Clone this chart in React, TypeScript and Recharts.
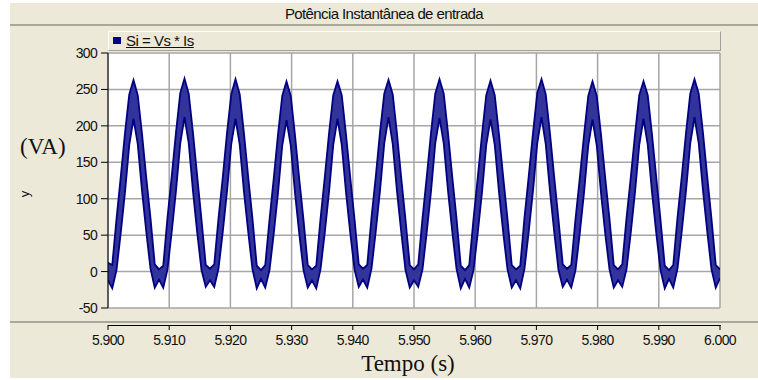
import { Area, CartesianGrid, ComposedChart, XAxis, YAxis } from "recharts";

const X_TICKS = [5.9, 5.91, 5.92, 5.93, 5.94, 5.95, 5.96, 5.97, 5.98, 5.99, 6.0];
const Y_TICKS = [-50, 0, 50, 100, 150, 200, 250, 300];

// 120 Hz ripple cycles, 12 samples per cycle starting at each valley
const T_START = 5.9;
const SAMPLE_STEP = 1 / 120 / 12;

// upper edge of the Si band (VA), one row per cycle
const siHigh = [
  [12, 9, 72, 130, 190, 243, 263, 242, 189, 129, 73, 10],
  [3, 8, 74, 131, 191, 245, 265, 244, 190, 130, 71, 9],
  [4, 10, 73, 129, 190, 243, 264, 243, 189, 129, 72, 8],
  [2, 9, 71, 128, 188, 241, 261, 241, 187, 127, 71, 9],
  [3, 8, 72, 129, 189, 242, 261, 242, 188, 129, 72, 10],
  [4, 9, 74, 130, 191, 244, 263, 243, 189, 128, 71, 9],
  [3, 10, 73, 130, 190, 244, 264, 244, 190, 130, 73, 8],
  [2, 9, 72, 129, 188, 242, 262, 242, 188, 129, 72, 9],
  [3, 8, 74, 131, 190, 245, 264, 243, 189, 129, 71, 10],
  [4, 9, 72, 128, 187, 241, 261, 241, 188, 128, 72, 9],
  [3, 10, 73, 129, 188, 242, 261, 242, 188, 129, 71, 8],
  [2, 9, 74, 130, 190, 244, 264, 244, 190, 130, 72, 9],
];

// lower edge of the Si band (VA)
const siLow = [
  [-12, -23, 2, 53, 109, 174, 210, 175, 111, 55, 4, -22],
  [-11, -22, 3, 55, 111, 176, 212, 176, 110, 53, 2, -21],
  [-12, -21, 4, 54, 110, 175, 210, 174, 109, 54, 3, -23],
  [-10, -22, 2, 52, 108, 173, 208, 173, 108, 52, 2, -22],
  [-12, -23, 3, 53, 109, 174, 210, 174, 109, 53, 3, -21],
  [-11, -22, 4, 55, 111, 176, 212, 175, 110, 54, 2, -22],
  [-12, -21, 3, 54, 110, 176, 211, 176, 111, 55, 4, -23],
  [-10, -22, 2, 53, 109, 174, 209, 174, 109, 53, 3, -22],
  [-12, -23, 4, 55, 111, 176, 212, 175, 110, 54, 2, -21],
  [-11, -22, 2, 52, 108, 173, 209, 173, 108, 52, 3, -22],
  [-12, -21, 3, 53, 109, 174, 210, 174, 109, 53, 2, -23],
  [-10, -22, 4, 55, 111, 176, 212, 176, 111, 55, 3, -22],
];

const SI_END = [-9, 3]; // last sample at 6.000 s

const data = siHigh.flatMap((row, c) =>
  row.map((hi, j) => ({
    t: T_START + (c * row.length + j) * SAMPLE_STEP,
    si: [siLow[c][j], hi],
  }))
);
data.push({ t: 6.0, si: SI_END });

const BG = "#ECE9D8";
const SANS = "'Liberation Sans', Arial, sans-serif";
const SERIF = "'Liberation Serif', 'Times New Roman', serif";

function TimeTick({ x, y, payload }: any) {
  return (
    <g>
      <line x1={x} x2={x} y1={y + 9} y2={y + 14} stroke="#000" />
      <text
        x={x}
        y={y + 29}
        textAnchor="middle"
        fontFamily={SANS}
        fontSize={14}
        letterSpacing={-0.6}
        fill="#111"
      >
        {payload.value.toFixed(3)}
      </text>
    </g>
  );
}

export default function App() {
  return (
    <div
      style={{
        position: "fixed",
        left: 0,
        top: 0,
        width: 758,
        height: 380,
        background: "#fff",
        fontFamily: SANS,
      }}
    >
      <div style={{ position: "absolute", left: 10, top: 3, right: 0, bottom: 2, background: BG }} />

      {/* title bar */}
      <div
        style={{
          position: "absolute",
          left: 10,
          top: 3,
          right: 0,
          height: 22,
          lineHeight: "22px",
          textAlign: "center",
          fontSize: 15,
          letterSpacing: -0.6,
          color: "#111",
        }}
      >
        Potência Instantânea de entrada
      </div>
      <div style={{ position: "absolute", left: 10, top: 24, right: 0, height: 2, background: "#A8A799" }} />

      <ComposedChart
        width={758}
        height={380}
        data={data}
        margin={{ top: 53, right: 38, bottom: 42, left: 68 }}
        style={{ position: "absolute", left: 0, top: 0 }}
      >
        <CartesianGrid stroke="#A6A6A6" strokeWidth={1.5} fill="#fff" />
        <XAxis
          dataKey="t"
          type="number"
          domain={[5.9, 6.0]}
          ticks={X_TICKS}
          interval={0}
          allowDataOverflow
          axisLine={false}
          tickLine={false}
          height={30}
          tick={<TimeTick />}
        />
        <YAxis
          type="number"
          domain={[-50, 300]}
          ticks={Y_TICKS}
          interval={0}
          width={40}
          tickSize={7}
          tickMargin={4}
          axisLine={{ stroke: "#000" }}
          tickLine={{ stroke: "#000" }}
          tick={{ fontSize: 14, fill: "#111", fontFamily: SANS, letterSpacing: -0.7 }}
        />
        <Area
          type="linear"
          dataKey="si"
          stroke="#000080"
          strokeWidth={1.8}
          fill="#33339C"
          fillOpacity={1}
          isAnimationActive={false}
          dot={false}
          activeDot={false}
        />
      </ComposedChart>

      {/* legend box */}
      <div
        style={{
          position: "absolute",
          left: 108,
          top: 31,
          width: 611,
          height: 18,
          background: BG,
          borderTop: "1px solid #fff",
          borderLeft: "1px solid #fff",
          borderRight: "1px solid #A0A0A0",
          borderBottom: "1px solid #A0A0A0",
        }}
      >
        <div style={{ position: "absolute", left: 4, top: 5, width: 8, height: 7, background: "#000080" }} />
        <div
          style={{
            position: "absolute",
            left: 17,
            top: 0,
            fontSize: 15,
            lineHeight: "17px",
            letterSpacing: -0.5,
            textDecoration: "underline",
            color: "#111",
          }}
        >
          Si = Vs * Is
        </div>
      </div>

      {/* time axis below the plot */}
      <div style={{ position: "absolute", left: 10, top: 321, right: 0, height: 2, background: "#A8A799" }} />
      <div style={{ position: "absolute", left: 108, top: 325, width: 613, height: 1, background: "#000" }} />

      <div
        style={{
          position: "absolute",
          left: 20,
          top: 133,
          fontFamily: SERIF,
          fontSize: 23,
          lineHeight: "28px",
          color: "#111",
        }}
      >
        (VA)
      </div>
      <div
        style={{
          position: "absolute",
          left: 22,
          top: 187,
          fontSize: 13,
          lineHeight: "14px",
          color: "#111",
          transform: "rotate(-90deg)",
        }}
      >
        y
      </div>
      <div
        style={{
          position: "absolute",
          left: 308,
          top: 350,
          width: 200,
          textAlign: "center",
          fontFamily: SERIF,
          fontSize: 23,
          lineHeight: "28px",
          color: "#111",
        }}
      >
        Tempo (s)
      </div>
    </div>
  );
}
